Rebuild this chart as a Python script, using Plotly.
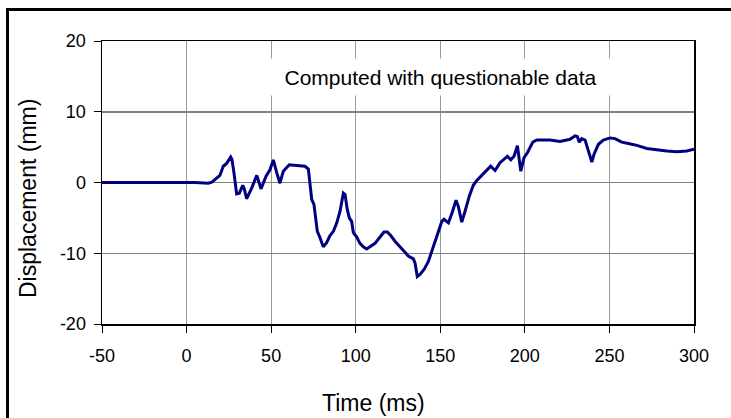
import plotly.graph_objects as go

time_ms = [-50, -40, -30, -20, -10, 0, 5, 10.9, 12.7, 15, 16.8, 19.7, 21.7, 23.7, 26.1, 26.8, 28, 29.6,
           31.2, 33.2, 34, 35.5, 38.5, 41.5, 44, 47, 49.3, 51.3, 53.3, 55.2, 57.2, 60.7, 65.1,
           70, 72, 73, 74, 75.3, 76.5, 77.3, 78.9, 80.8, 82.8, 84.8, 86.8, 88.8, 90.7, 92.7,
           93.7, 95, 96.2, 97.6, 98.6, 100.6, 102.5, 104.5, 106.5, 108.5, 111.4, 114.4, 116.7,
           118.7, 120.7, 123.2, 126.2, 128.6, 131.1, 134.1, 135.1, 136.4, 138, 140.4, 142.9,
           144.9, 147.9, 150.9, 152.2, 154.8, 157.1, 159.3, 160.7, 162.7, 164.6, 167.2, 169.5,
           171.6, 174.5, 177.5, 179.8, 182.4, 185.3, 189.7, 191.7, 193.6, 195.6, 197.6, 199.5,
           201.5, 204.7, 207, 214.9, 220.8, 226.7, 229.7, 231, 232.2, 233.6, 235.6, 237, 238.6,
           239.6, 240.9, 243.5, 246.4, 250.4, 253.3, 257.3, 261.2, 266.2, 272.1, 278, 283.9,
           289.8, 295.7, 300]
displacement_mm = [0, 0.02, -0.03, 0.02, -0.02, 0, 0, 0, -0.1, 0.05, 0.4, 1.0, 2.3, 2.7, 3.6, 3.3, 1.4, -1.6,
                   -1.5, -0.4, -0.8, -2.3, -0.8, 1.0, -0.9, 0.9, 1.8, 3.2, 1.4, -0.1, 1.6, 2.5, 2.4,
                   2.3, 1.9, 0, -2.4, -3.1, -5.2, -6.9, -7.8, -9.1, -8.5, -7.5, -6.9, -5.7, -4.1, -1.5,
                   -1.7, -3.8, -5.0, -5.5, -7.1, -7.7, -8.6, -9.1, -9.4, -9.1, -8.6, -7.7, -7.0,
                   -7.0, -7.5, -8.3, -9.0, -9.7, -10.4, -10.8, -11.4, -13.3, -13.0, -12.3, -11.2,
                   -9.7, -7.6, -5.5, -5.2, -5.7, -4.2, -2.5, -3.4, -5.6, -4.1, -1.9, -0.4,
                   0.3, 1.0, 1.7, 2.3, 1.7, 2.8, 3.7, 3.2, 3.7, 5.2, 1.6, 3.5,
                   4.2, 5.7, 6.0, 6.0, 5.8, 6.1, 6.6, 6.5, 5.7, 6.2, 6.0, 4.9, 3.4,
                   2.9, 4.0, 5.4, 6.0, 6.3, 6.2, 5.7, 5.5, 5.25, 4.8, 4.6, 4.45,
                   4.35, 4.45, 4.7]

x_ticks = [-50, 0, 50, 100, 150, 200, 250, 300]
y_ticks = [-20, -10, 0, 10, 20]
annotation_text = "Computed with questionable data"
x_title = "Time (ms)"
y_title = "Displacement (mm)"

W, H = 731, 418
L, R, T, B = 102, 37, 41, 94
pw, ph = W - L - R, H - T - B

tick_font = dict(family="Arial, Liberation Sans, sans-serif", size=18, color="#000")

fig = go.Figure()
fig.add_trace(go.Scatter(x=time_ms, y=displacement_mm, mode="lines",
                         line=dict(color="#000080", width=3), hoverinfo="skip"))

fig.update_layout(
    width=W, height=H,
    margin=dict(l=L, r=R, t=T, b=B),
    paper_bgcolor="white", plot_bgcolor="white",
    showlegend=False,
    xaxis=dict(range=[-50, 300], tickvals=x_ticks, ticktext=[str(v) for v in x_ticks],
               showgrid=True, gridcolor="#9a9a9a", gridwidth=1,
               showline=True, linecolor="#000", linewidth=1.5, mirror=True,
               ticks="outside", ticklen=7, tickcolor="#000", tickwidth=1,
               tickfont=tick_font, zeroline=False, ticklabelstandoff=8),
    yaxis=dict(range=[-20, 20], tickvals=y_ticks, ticktext=[str(v) for v in y_ticks],
               showgrid=True, gridcolor="#808080", gridwidth=1.5,
               showline=True, linecolor="#000", linewidth=1.5, mirror=True,
               ticks="outside", ticklen=7, tickcolor="#000", tickwidth=1,
               tickfont=tick_font, zeroline=False, ticklabelstandoff=4),
)

fig.add_annotation(x=150, y=14.9, xref="x", yref="y", text=annotation_text,
                   showarrow=False, bgcolor="white", width=345, height=30, borderpad=3,
                   font=dict(family="Arial, Liberation Sans, sans-serif", size=21, color="#000"))

fig.add_annotation(x=(373 - L) / pw, y=(H - B - 403) / ph, xref="paper", yref="paper",
                   text=x_title, showarrow=False, xanchor="center", yanchor="middle",
                   font=dict(family="Arial, Liberation Sans, sans-serif", size=23, color="#000"))
fig.add_annotation(x=(28 - L) / pw, y=(H - B - 199) / ph, xref="paper", yref="paper",
                   text=y_title, showarrow=False, textangle=-90, xanchor="center", yanchor="middle",
                   font=dict(family="Arial, Liberation Sans, sans-serif", size=23, color="#000"))

# outer frame
fig.add_shape(type="rect", xref="paper", yref="paper",
              x0=(7.5 - L) / pw, x1=(W + 80 - L) / pw,
              y0=(H - B - (H + 80)) / ph, y1=(H - B - 9.5) / ph,
              line=dict(color="#000", width=3), fillcolor="rgba(0,0,0,0)", layer="above")

fig.write_html("out.html", config={"displayModeBar": False, "staticPlot": True},
               post_script="document.body.style.margin='0';document.body.style.overflow='hidden';")
